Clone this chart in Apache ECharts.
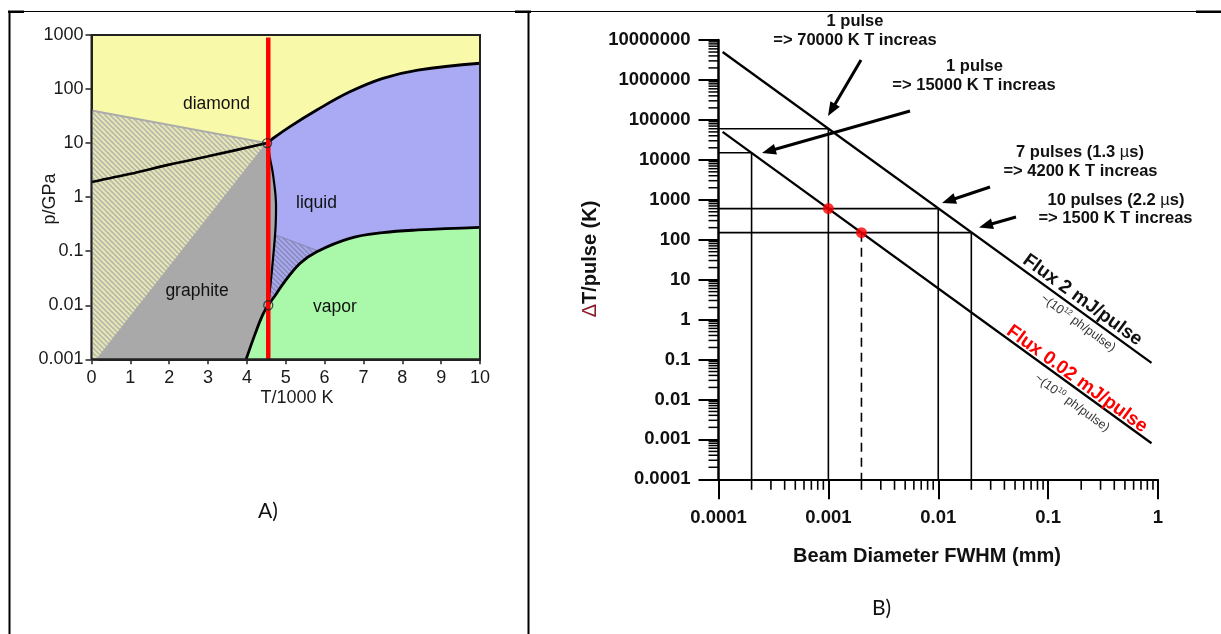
<!DOCTYPE html>
<html>
<head>
<meta charset="utf-8">
<script src="https://cdn.jsdelivr.net/npm/echarts@6/dist/echarts.min.js"></script>
<style>
  html, body { margin: 0; padding: 0; background: #fff; }
  #chart { width: 1221px; height: 634px; }
</style>
</head>
<body>
<div id="chart"></div>
<script>
// ---------- Panel A: carbon phase diagram (T in 1000 K, p in GPa) ----------
const tempTickLabels = ['0', '1', '2', '3', '4', '5', '6', '7', '8', '9', '10'];
const pressureTickLabels = ['0.001', '0.01', '0.1', '1', '10', '100', '1000'];

// graphite / diamond coexistence line
const graphiteDiamondT = [0, 1, 2, 3, 4.52];
const graphiteDiamondP = [1.9, 2.7, 4.0, 5.7, 10];
// diamond / liquid melting line
const diamondLiquidT = [4.52, 4.62, 5.1, 5.8, 6.65, 7.5, 8.4, 10];
const diamondLiquidP = [10, 11.5, 20, 41, 89, 158, 225, 300];
// graphite / liquid melting line
const graphiteLiquidT = [4.52, 4.6, 4.68, 4.75, 4.74, 4.7, 4.61, 4.55];
const graphiteLiquidP = [10, 5, 2.4, 0.67, 0.3, 0.12, 0.025, 0.01];
// sublimation line continuing into the boiling line
const vaporT = [3.98, 4.2, 4.4, 4.55, 4.75, 4.94, 5.37, 5.8, 6.65, 7.5, 8.4, 10];
const vaporP = [0.001, 0.0028, 0.0065, 0.01, 0.016, 0.0255, 0.06, 0.098, 0.173, 0.22, 0.247, 0.277];
const vaporTripleIndex = 3;
// metastable graphite wedge
const metaGraphiteT = [0, 0.15, 4.52, 0];
const metaGraphiteP = [0.001, 0.001, 10, 40];
// metastable liquid wedge (upper edge)
const metaLiquidEdgeT = [4.73, 5.85];
const metaLiquidEdgeP = [0.2, 0.1];
// triple points
const triplePointsT = [4.52, 4.55];
const triplePointsP = [10, 0.01];
// heating path
const heatingT = 4.55;
const heatingP = [0.001, 900];

// ---------- Panel B: temperature rise per pulse vs. beam size ----------
const beamTickLabels = ['0.0001', '0.001', '0.01', '0.1', '1'];
const riseTickLabels = ['0.0001', '0.001', '0.01', '0.1', '1', '10', '100', '1000',
  '10000', '100000', '1000000', '10000000'];
const beamMin = 0.0001, beamMax = 1, riseMin = 0.0001, riseMax = 10000000;

const flux2mJDiameter = [0.000109, 0.873];
const flux2mJRise = [5.0e6, 0.082];
const flux002mJDiameter = [0.000109, 0.873];
const flux002mJRise = [5.0e4, 0.0008];

const guideDiameters = [0.001, 0.0002, 0.01, 0.02];
const guideRises = [60000, 15000, 600, 150];
const markedDiameters = [0.001, 0.002];
const markedRises = [600, 150];

const zip = (a, b) => a.map((v, i) => [v, b[i]]);

const phaseColors = {
  diamond: '#f9f9aa',
  liquid: '#a9a9f4',
  vapor: '#aaf8aa',
  graphite: '#a9a9a9'
};

const FONT = '"Liberation Sans", Arial, Helvetica, sans-serif';

function hatch(bg, fg, size, width) {
  const c = document.createElement('canvas');
  c.width = c.height = size;
  const g = c.getContext('2d');
  g.fillStyle = bg;
  g.fillRect(0, 0, size, size);
  g.strokeStyle = fg;
  g.lineWidth = width;
  g.beginPath();
  for (let k = -1; k <= 1; k++) {
    g.moveTo(-1, -1 + k * size);
    g.lineTo(size + 1, size + 1 + k * size);
  }
  g.stroke();
  return { image: c, repeat: 'repeat' };
}

function regionSeries(pts, fill, z, stroke, strokeWidth) {
  return {
    type: 'custom', xAxisIndex: 0, yAxisIndex: 0, z: z, silent: true,
    data: pts,
    renderItem(params, api) {
      if (params.dataIndex !== 0) return null;
      return {
        type: 'polygon',
        shape: { points: pts.map(p => api.coord(p)) },
        style: { fill: fill, stroke: stroke || 'none', lineWidth: stroke ? (strokeWidth || 1.2) : 0 }
      };
    }
  };
}

// region outlines assembled from the boundary curves
const dl = zip(diamondLiquidT, diamondLiquidP);
const gl = zip(graphiteLiquidT, graphiteLiquidP);
const vp = zip(vaporT, vaporP);
const liquidRegion = dl.concat(vp.slice(vaporTripleIndex).reverse(), gl.slice().reverse());
const vaporRegion = vp.concat([[10, 0.001]]);
const graphiteRegion = [[metaGraphiteT[1], metaGraphiteP[1]]].concat(gl, vp.slice(0, vaporTripleIndex + 1).reverse());
const metaGraphiteRegion = zip(metaGraphiteT, metaGraphiteP);
const metaLiquidRegion = zip(metaLiquidEdgeT, metaLiquidEdgeP).concat(
  vp.slice(vaporTripleIndex, 8).reverse().filter(p => p[0] < metaLiquidEdgeT[1]),
  gl.slice(5, 7).reverse().filter(p => p[1] < metaLiquidEdgeP[0])
);

function lineSeries(xi, data, color, width, z, type) {
  return {
    type: 'line', xAxisIndex: xi, yAxisIndex: xi, data: data, symbol: 'none', silent: true,
    z: z, lineStyle: { color: color, width: width, type: type || 'solid' }, animation: false
  };
}

// minor ticks at 2..9 of every decade on panel B
const minorX = [], minorY = [];
for (let e = -4; e < 0; e++) for (let m = 2; m <= 9; m++) minorX.push(m * Math.pow(10, e));
for (let e = -4; e < 7; e++) for (let m = 2; m <= 9; m++) minorY.push(m * Math.pow(10, e));

const chart = echarts.init(document.getElementById('chart'));

const option = {
  animation: false,
  backgroundColor: '#ffffff',
  grid: [
    { left: 91.5, top: 35, width: 388.5, height: 324.3, show: true, backgroundColor: phaseColors.diamond, borderWidth: 0 },
    { left: 718.5, top: 40, width: 439.5, height: 439.3, show: false }
  ],
  xAxis: [
    {
      gridIndex: 0, type: 'value', min: 0, max: 10, interval: 1,
      axisLine: { show: true, onZero: false, lineStyle: { color: '#222', width: 2 } },
      axisTick: { show: true, length: 5, lineStyle: { color: '#222', width: 1.5 } },
      axisLabel: { margin: 10, fontFamily: FONT, fontSize: 18, color: '#1a1a1a',
        formatter: v => tempTickLabels[Math.round(v)] },
      splitLine: { show: false }
    },
    {
      gridIndex: 1, type: 'log', logBase: 10, min: beamMin, max: beamMax, splitNumber: 4,
      axisLine: { show: true, onZero: false, lineStyle: { color: '#000', width: 2 } },
      axisTick: { show: true, length: 20, lineStyle: { color: '#000', width: 2 } },
      axisLabel: { margin: 29, fontFamily: FONT, fontWeight: 'bold', fontSize: 18.5, color: '#111',
        formatter: v => beamTickLabels[Math.round(Math.log10(v)) + 4] },
      splitLine: { show: false }
    }
  ],
  yAxis: [
    {
      gridIndex: 0, type: 'log', logBase: 10, min: 0.001, max: 1000, splitNumber: 6,
      axisLine: { show: true, onZero: false, lineStyle: { color: '#222', width: 2 } },
      axisTick: { show: true, length: 6, lineStyle: { color: '#222', width: 1.5 } },
      axisLabel: { margin: 8, fontFamily: FONT, fontSize: 18, color: '#1a1a1a',
        formatter: v => pressureTickLabels[Math.round(Math.log10(v)) + 3] },
      splitLine: { show: false }
    },
    {
      gridIndex: 1, type: 'log', logBase: 10, min: riseMin, max: riseMax, interval: 1,
      axisLine: { show: true, onZero: false, lineStyle: { color: '#000', width: 2.5 } },
      axisTick: { show: true, length: 20, lineStyle: { color: '#000', width: 2 } },
      axisLabel: { margin: 28, fontFamily: FONT, fontWeight: 'bold', fontSize: 18.5, color: '#111',
        formatter: v => riseTickLabels[Math.round(Math.log10(v)) + 4] },
      splitLine: { show: false }
    }
  ],
  series: [
    // phase regions
    regionSeries(metaGraphiteRegion, hatch('#eeeeb6', '#bdbdae', 5, 2), 1, '#ababab', 2),
    regionSeries(graphiteRegion, phaseColors.graphite, 2),
    regionSeries(liquidRegion, phaseColors.liquid, 2),
    regionSeries(vaporRegion, phaseColors.vapor, 2),
    regionSeries(metaLiquidRegion, hatch('#a9a9f2', '#8888b6', 5, 1.5), 3, '#8c8cba'),
    // phase boundaries
    Object.assign(lineSeries(0, zip(graphiteDiamondT, graphiteDiamondP), '#000', 2.6, 10), { smooth: 0.3 }),
    Object.assign(lineSeries(0, dl, '#000', 2.8, 10), { smooth: 0.4 }),
    Object.assign(lineSeries(0, gl, '#000', 2.2, 10), { smooth: 0.4 }),
    Object.assign(lineSeries(0, vp, '#000', 2.8, 10), { smooth: 0.4 }),
    // heating path
    lineSeries(0, heatingP.map(p => [heatingT, p]), '#ff0000', 4.5, 14),
    {
      type: 'scatter', xAxisIndex: 0, yAxisIndex: 0, silent: true, z: 15,
      data: zip(triplePointsT, triplePointsP), symbol: 'circle', symbolSize: 9,
      itemStyle: { color: 'rgba(0,0,0,0)', borderColor: '#222', borderWidth: 1.3 }
    },
    // frame of panel A
    {
      type: 'custom', xAxisIndex: 0, yAxisIndex: 0, z: 20, silent: true,
      data: [[0, 0.001], [10, 1000]],
      renderItem(params, api) {
        if (params.dataIndex !== 0) return null;
        const a = api.coord([0, 1000]), b = api.coord([10, 0.001]);
        return { type: 'rect', shape: { x: a[0], y: a[1], width: b[0] - a[0], height: b[1] - a[1] },
          style: { fill: 'none', stroke: '#222', lineWidth: 2 } };
      }
    },

    // panel B: flux lines
    lineSeries(1, zip(flux2mJDiameter, flux2mJRise), '#000', 2.3, 10),
    lineSeries(1, zip(flux002mJDiameter, flux002mJRise), '#000', 2.3, 10),
    // reading guides
    ...guideDiameters.map((d, i) => lineSeries(1,
      [[beamMin, guideRises[i]], [d, guideRises[i]], [d, riseMin]], '#000', 1.6, 8)),
    lineSeries(1, [[markedDiameters[1], markedRises[1]], [markedDiameters[1], riseMin]], '#000', 1.6, 8, [9, 6]),
    {
      type: 'scatter', xAxisIndex: 1, yAxisIndex: 1, silent: true, z: 12,
      data: zip(markedDiameters, markedRises), symbol: 'circle', symbolSize: 11,
      itemStyle: { color: '#ff0000' }
    },
    // minor ticks
    {
      type: 'custom', xAxisIndex: 1, yAxisIndex: 1, z: 5, silent: true,
      data: minorX.map(v => [v, riseMin]),
      renderItem(params, api) {
        const p = api.coord([api.value(0), api.value(1)]);
        return { type: 'line', shape: { x1: p[0], y1: p[1], x2: p[0], y2: p[1] + 10.5 },
          style: { stroke: '#000', lineWidth: 1.6 } };
      }
    },
    {
      type: 'custom', xAxisIndex: 1, yAxisIndex: 1, z: 5, silent: true,
      data: minorY.map(v => [beamMin, v]),
      renderItem(params, api) {
        const p = api.coord([api.value(0), api.value(1)]);
        return { type: 'line', shape: { x1: p[0] - 10, y1: p[1], x2: p[0], y2: p[1] },
          style: { stroke: '#000', lineWidth: 1.5 } };
      }
    }
  ]
};

chart.setOption(option);

// ---------- annotations ----------
function arrow(tail, tip) {
  const dx = tip[0] - tail[0], dy = tip[1] - tail[1], len = Math.hypot(dx, dy);
  const ux = dx / len, uy = dy / len, head = 14, half = 5.5;
  const bx = tip[0] - ux * head, by = tip[1] - uy * head;
  return [
    { type: 'line', z: 50, silent: true, shape: { x1: tail[0], y1: tail[1], x2: bx + ux * 2, y2: by + uy * 2 },
      style: { stroke: '#000', lineWidth: 3 } },
    { type: 'polygon', z: 50, silent: true,
      shape: { points: [tip, [bx - uy * half, by + ux * half], [bx + uy * half, by - ux * half]] },
      style: { fill: '#000' } }
  ];
}

function text(str, x, y, opts) {
  return {
    type: 'text', x: x, y: y, z: 60, silent: true,
    style: Object.assign({
      text: str, align: 'center', verticalAlign: 'middle', fill: '#111',
      fontFamily: FONT, fontSize: 16.5, fontWeight: 'bold'
    }, opts || {})
  };
}

const toB = p => chart.convertToPixel({ xAxisIndex: 1, yAxisIndex: 1 }, p);
const upA = toB([flux2mJDiameter[0], flux2mJRise[0]]), upB = toB([flux2mJDiameter[1], flux2mJRise[1]]);
const loA = toB([flux002mJDiameter[0], flux002mJRise[0]]), loB = toB([flux002mJDiameter[1], flux002mJRise[1]]);
const upAngle = Math.atan2(upB[1] - upA[1], upB[0] - upA[0]);
const loAngle = Math.atan2(loB[1] - loA[1], loB[0] - loA[0]);

const muRich = { mu: { fontFamily: FONT, fontSize: 16.5, fontWeight: 'normal', fill: '#111' } };
const smallRich = {
  n: { fontFamily: FONT, fontSize: 12.5, fill: '#333', lineHeight: 15 },
  s: { fontFamily: FONT, fontSize: 8, fill: '#333', verticalAlign: 'top', lineHeight: 15 }
};

const graphics = [
  // table rules
  { type: 'line', silent: true, shape: { x1: 9, y1: 11.5, x2: 1221, y2: 11.5 }, style: { stroke: '#000', lineWidth: 1 } },
  { type: 'rect', silent: true, shape: { x: 8, y: 10.5, width: 16, height: 2.5 }, style: { fill: '#000' } },
  { type: 'rect', silent: true, shape: { x: 515, y: 10.5, width: 16, height: 2.5 }, style: { fill: '#000' } },
  { type: 'rect', silent: true, shape: { x: 1196, y: 10.5, width: 25, height: 2.5 }, style: { fill: '#000' } },
  { type: 'line', silent: true, shape: { x1: 9.5, y1: 11, x2: 9.5, y2: 634 }, style: { stroke: '#000', lineWidth: 2 } },
  { type: 'line', silent: true, shape: { x1: 528.5, y1: 11, x2: 528.5, y2: 634 }, style: { stroke: '#000', lineWidth: 2 } },

  // panel A labels
  text('diamond', 216.5, 104, { fontWeight: 'normal', fontSize: 17.5 }),
  text('liquid', 316.5, 203.5, { fontWeight: 'normal', fontSize: 17.5 }),
  text('graphite', 197, 291, { fontWeight: 'normal', fontSize: 17.5 }),
  text('vapor', 335, 307.5, { fontWeight: 'normal', fontSize: 17.5 }),
  text('T/1000 K', 297, 398, { fontWeight: 'normal', fontSize: 18, fill: '#1a1a1a' }),
  Object.assign(text('p/GPa', 50, 199, { fontWeight: 'normal', fontSize: 18, fill: '#1a1a1a' }), { rotation: Math.PI / 2 }),
  text('A)', 268, 511, { fontWeight: 'normal', fontSize: 21, fontFamily: 'Lato, "Open Sans", sans-serif', fill: '#111' }),

  // panel B labels
  text('Beam Diameter FWHM (mm)', 927, 556.5, { fontSize: 20 }),
  Object.assign(text('{d|Δ}T/pulse (K)', 590, 259, {
    fontSize: 20,
    rich: { d: { fontFamily: FONT, fontSize: 20, fontWeight: 'normal', fill: '#8a1a2a' } }
  }), { rotation: Math.PI / 2 }),
  text('B)', 881.5, 608, { fontWeight: 'normal', fontSize: 21, fontFamily: 'Lato, "Open Sans", sans-serif', fill: '#111' }),

  text('1 pulse', 855, 21.5),
  text('=> 70000 K T increas', 855, 40.5),
  text('1 pulse', 974.5, 66),
  text('=> 15000 K T increas', 974, 85),
  text('7 pulses (1.3 {mu|µ}s)', 1080, 152.5, { rich: muRich }),
  text('=> 4200 K T increas', 1080.5, 171.5),
  text('10 pulses (2.2 {mu|µ}s)', 1116, 200, { rich: muRich }),
  text('=> 1500 K T increas', 1115.5, 218.5),

  Object.assign(text('Flux 2 mJ/pulse', 1082.5, 300, { fontSize: 19 }), { rotation: -upAngle }),
  Object.assign(text('~(10{s|12} ph/pulse)', 1078, 323, { fontWeight: 'normal', fontSize: 12.5, fill: '#333', rich: smallRich }), { rotation: -upAngle }),
  Object.assign(text('Flux 0.02 mJ/pulse', 1077, 379, { fontSize: 19, fill: '#ff0000' }), { rotation: -loAngle }),
  Object.assign(text('~(10{s|10} ph/pulse)', 1072, 403, { fontWeight: 'normal', fontSize: 12.5, fill: '#333', rich: smallRich }), { rotation: -loAngle }),

  ...arrow([861, 60], [828, 116]),
  ...arrow([910, 111], [762, 153]),
  ...arrow([990, 187], [942, 203]),
  ...arrow([1016, 217], [979, 227.5])
];

chart.setOption({ graphic: { elements: graphics } });
</script>
</body>
</html>
